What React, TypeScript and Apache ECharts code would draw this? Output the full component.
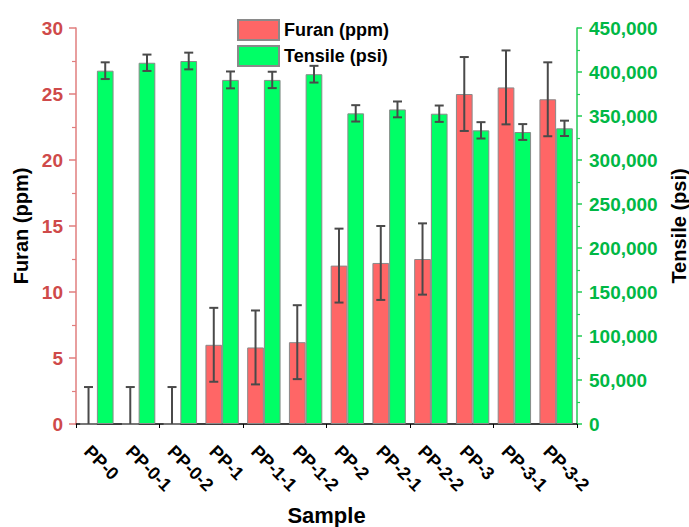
import React, { useEffect, useRef } from "react";
import * as echarts from "echarts";

const samples = ["PP-0", "PP-0-1", "PP-0-2", "PP-1", "PP-1-1", "PP-1-2", "PP-2", "PP-2-1", "PP-2-2", "PP-3", "PP-3-1", "PP-3-2"];
const furan = [0, 0, 0, 6.0, 5.8, 6.2, 12.0, 12.2, 12.5, 25.0, 25.5, 24.6];
const furanErr = [2.8, 2.8, 2.8, 2.8, 2.8, 2.8, 2.8, 2.8, 2.7, 2.8, 2.8, 2.8];
const tensile = [401500, 410500, 412500, 391000, 391000, 397500, 353000, 357500, 352600, 333700, 331800, 336000];
const tensileErr = [9500, 9300, 9500, 9600, 9300, 9500, 9300, 9000, 9300, 9300, 9000, 8700];

const FONT = "'Liberation Sans', Arial, sans-serif";
const RED = "#FF6666";
const GREEN = "#00FF66";
const LEFT_COLOR = "#CF4A4A";
const RIGHT_COLOR = "#00B845";

function errorRenderer(side: number) {
  return (params: any, api: any) => {
    const idx = api.value(0);
    const lo = api.value(1);
    const hi = api.value(2);
    const bw = api.size([1, 0])[0] * 0.4;
    const top = api.coord([idx, hi]);
    const bot = api.coord([idx, Math.max(lo, 0)]);
    const x = top[0] + (side * bw) / 2;
    const style = { stroke: "#4a4a4a", lineWidth: 2 };
    const children: any[] = [
      { type: "line", shape: { x1: x, y1: top[1], x2: x, y2: bot[1] }, style },
      { type: "line", shape: { x1: x - 4.5, y1: top[1], x2: x + 4.5, y2: top[1] }, style },
    ];
    if (lo > 0) {
      children.push({ type: "line", shape: { x1: x - 4.5, y1: bot[1], x2: x + 4.5, y2: bot[1] }, style });
    }
    return { type: "group", children };
  };
}

export default function App() {
  const ref = useRef<HTMLDivElement>(null);

  useEffect(() => {
    document.body.style.margin = "0";
    const chart = echarts.init(ref.current!, null, { renderer: "svg" });
    const furanErrData = furan.map((v, i) => [i, v - furanErr[i], v + furanErr[i]]);
    const tensileErrData = tensile.map((v, i) => [i, v - tensileErr[i], v + tensileErr[i]]);

    chart.setOption({
      animation: false,
      backgroundColor: "#ffffff",
      textStyle: { fontFamily: FONT },
      grid: { left: 76, right: 112, top: 28, bottom: 103, containLabel: false, outerBoundsMode: "none" },
      legend: {
        data: ["Furan (ppm)", "Tensile (psi)"],
        orient: "vertical",
        left: 232,
        top: 14,
        icon: "rect",
        itemWidth: 41,
        itemHeight: 20,
        itemGap: 4,
        textStyle: { fontFamily: FONT, fontSize: 18, fontWeight: "bold", color: "#000" },
      },
      xAxis: [
        {
          type: "category",
          data: samples,
          name: "Sample",
          nameLocation: "middle",
          nameGap: 75,
          nameTextStyle: { fontFamily: FONT, fontSize: 22, fontWeight: "bold", color: "#000" },
          axisLine: { lineStyle: { color: "#000", width: 1.5 } },
          axisTick: { alignWithLabel: true, length: 6, lineStyle: { color: "#000", width: 1.5 } },
          axisLabel: {
            rotate: -45,
            margin: 15,
            interval: 0,
            align: "left",
            verticalAlign: "top",
            lineHeight: 27,
            fontFamily: FONT,
            fontSize: 18,
            fontWeight: "bold",
            color: "#000",
          },
        },
        {
          type: "category",
          data: samples,
          position: "bottom",
          axisLine: { show: false },
          axisTick: { show: true, length: 4, lineStyle: { color: "#000", width: 1 } },
          axisLabel: { show: false },
        },
      ],
      yAxis: [
        {
          type: "value",
          min: 0,
          max: 30,
          interval: 5,
          position: "left",
          name: "Furan (ppm)",
          nameLocation: "middle",
          nameRotate: 90,
          nameGap: 44,
          nameTextStyle: { fontFamily: FONT, fontSize: 20, fontWeight: "bold", color: "#000" },
          splitLine: { show: false },
          axisLine: { show: true, lineStyle: { color: "#E07E7E", width: 1.5 } },
          axisTick: { show: true, length: 7, lineStyle: { color: "#E07E7E", width: 1.5 } },
          minorTick: { show: true, splitNumber: 2, length: 4, lineStyle: { color: "#E07E7E", width: 1.2 } },
          axisLabel: { margin: 13, fontFamily: FONT, fontSize: 19, fontWeight: "bold", color: LEFT_COLOR },
        },
        {
          type: "value",
          min: 0,
          max: 450000,
          interval: 50000,
          position: "right",
          name: "Tensile (psi)",
          nameLocation: "middle",
          nameRotate: 90,
          nameGap: 86,
          nameTextStyle: { fontFamily: FONT, fontSize: 20, fontWeight: "bold", color: "#000" },
          splitLine: { show: false },
          axisLine: { show: true, lineStyle: { color: "#22CC55", width: 1.5 } },
          axisTick: { show: true, length: 5, lineStyle: { color: "#22CC55", width: 1.5 } },
          minorTick: { show: true, splitNumber: 2, length: 3, lineStyle: { color: "#22CC55", width: 1.2 } },
          axisLabel: {
            margin: 12,
            fontFamily: FONT,
            fontSize: 19,
            fontWeight: "bold",
            color: RIGHT_COLOR,
            formatter: (v: number) => v.toLocaleString("en-US"),
          },
        },
      ],
      series: [
        {
          name: "Furan (ppm)",
          type: "bar",
          xAxisIndex: 0,
          yAxisIndex: 0,
          data: furan,
          barWidth: "40%",
          barGap: "0%",
          itemStyle: { color: RED, borderColor: "#8a8a8a", borderWidth: 1 },
        },
        {
          name: "Tensile (psi)",
          type: "bar",
          xAxisIndex: 0,
          yAxisIndex: 1,
          data: tensile,
          barWidth: "40%",
          barGap: "0%",
          itemStyle: { color: GREEN, borderColor: "#8a8a8a", borderWidth: 1 },
        },
        {
          name: "Furan error",
          type: "custom",
          xAxisIndex: 0,
          yAxisIndex: 0,
          z: 10,
          renderItem: errorRenderer(-1),
          encode: { x: 0, y: [1, 2] },
          data: furanErrData,
        },
        {
          name: "Tensile error",
          type: "custom",
          xAxisIndex: 0,
          yAxisIndex: 1,
          z: 10,
          renderItem: errorRenderer(1),
          encode: { x: 0, y: [1, 2] },
          data: tensileErrData,
        },
      ],
    });

    return () => chart.dispose();
  }, []);

  return <div ref={ref} style={{ width: 689, height: 527 }} />;
}
